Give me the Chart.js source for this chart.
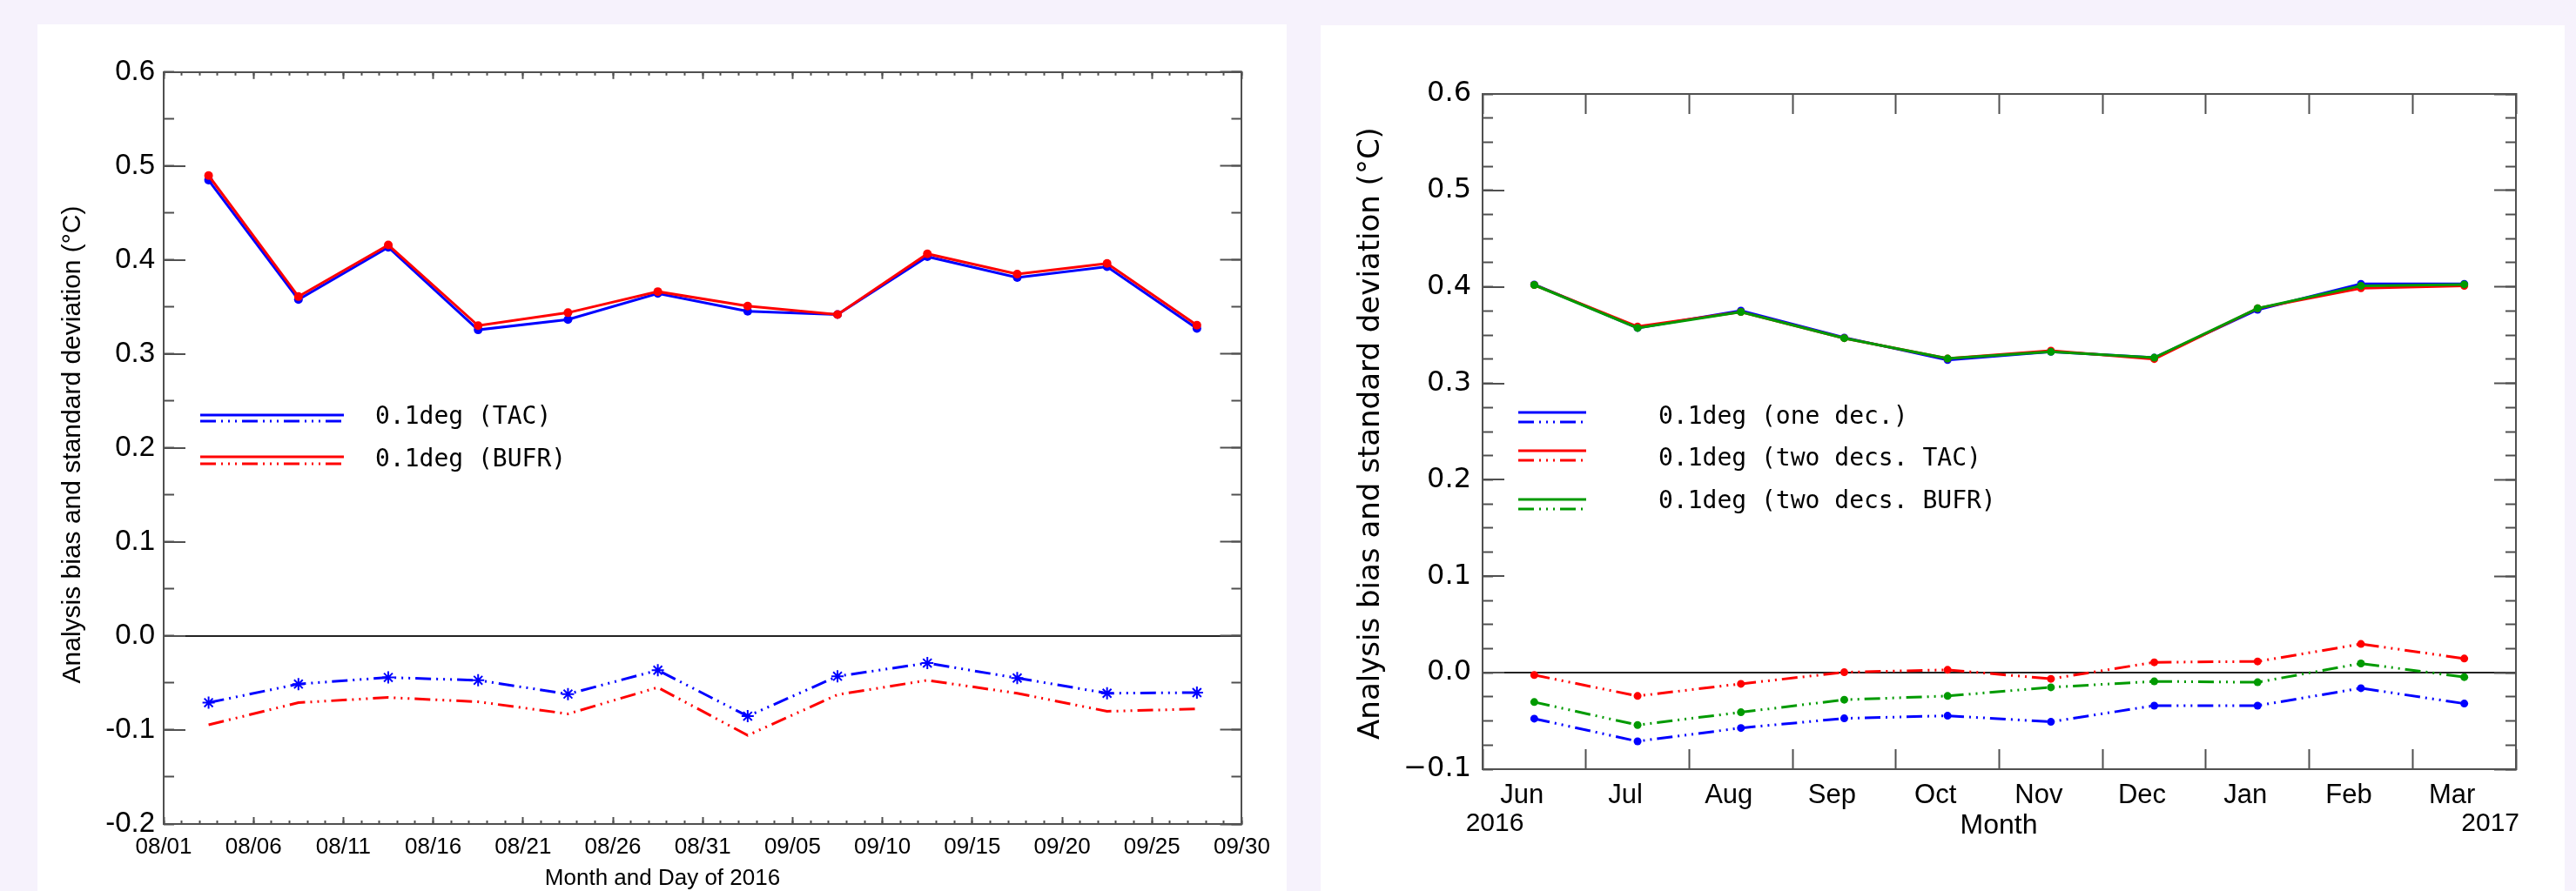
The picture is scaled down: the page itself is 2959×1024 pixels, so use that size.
<!DOCTYPE html>
<html><head><meta charset="utf-8">
<script src="https://cdn.jsdelivr.net/npm/chart.js@4.4.1/dist/chart.umd.min.js"></script>
<style>
html,body{margin:0;padding:0;background:#f6f2fc;width:2959px;height:1024px;overflow:hidden;}
#p1{position:absolute;left:43px;top:28px;width:1435px;height:996px;background:#fff;}
#p2{position:absolute;left:1517px;top:29px;width:1429px;height:995px;background:#fff;}
canvas{display:block;}
</style></head><body>
<div id="p1"><canvas id="c1" width="1435" height="996"></canvas></div>
<div id="p2"><canvas id="c2" width="1429" height="995"></canvas></div>
<script>
// ---------------- LEFT PANEL DATA (5-day periods, Aug–Sep 2016) ----------------
const periodCentreDays = [2.5, 7.5, 12.5, 17.5, 22.5, 27.5, 32.5, 37.5, 42.5, 47.5, 52.5, 57.5]; // days after 08/01
const dateTickLabels = ['08/01','08/06','08/11','08/16','08/21','08/26','08/31','09/05','09/10','09/15','09/20','09/25','09/30'];
const stdTAC   = [0.485, 0.358, 0.4135, 0.3257, 0.3367, 0.3645, 0.3455, 0.342, 0.4036, 0.3814, 0.3929, 0.3272];
const stdBUFR  = [0.4899, 0.3611, 0.416, 0.3302, 0.344, 0.3664, 0.351, 0.342, 0.4066, 0.385, 0.3964, 0.3306];
const biasTAC  = [-0.0709, -0.0511, -0.0441, -0.0471, -0.0618, -0.0364, -0.0853, -0.0428, -0.0288, -0.0447, -0.0609, -0.0602];
const biasBUFR = [-0.0945, -0.0709, -0.0654, -0.0700, -0.0828, -0.0547, -0.1057, -0.0624, -0.0471, -0.0609, -0.0801, -0.0776];
const leftSeriesNames = ['0.1deg (TAC)', '0.1deg (BUFR)'];
const leftYTicks = [-0.2, -0.1, 0, 0.1, 0.2, 0.3, 0.4, 0.5, 0.6];
const leftYTitle = 'Analysis bias and standard deviation (\u00B0C)';
const leftXTitle = 'Month and Day of 2016';

// ---------------- RIGHT PANEL DATA (monthly, Jun 2016 – Mar 2017) ----------------
const months = ['Jun','Jul','Aug','Sep','Oct','Nov','Dec','Jan','Feb','Mar'];
const stdOne      = [0.4025, 0.3574, 0.3754, 0.3475, 0.3242, 0.3327, 0.3266, 0.3763, 0.4032, 0.4032];
const stdTwoTAC   = [0.4020, 0.3589, 0.3740, 0.3468, 0.3257, 0.3339, 0.3252, 0.3778, 0.3986, 0.4011];
const stdTwoBUFR  = [0.4020, 0.3574, 0.3740, 0.3468, 0.3257, 0.3327, 0.3266, 0.3778, 0.4011, 0.4025];
const biasOne     = [-0.0476, -0.0711, -0.0573, -0.0473, -0.0446, -0.0509, -0.0341, -0.0341, -0.0160, -0.0320];
const biasTwoTAC  = [-0.0024, -0.0241, -0.0115, 0.0005, 0.0030, -0.0063, 0.0108, 0.0117, 0.0298, 0.0147];
const biasTwoBUFR = [-0.0304, -0.0542, -0.0410, -0.0280, -0.0241, -0.0151, -0.0090, -0.0099, 0.0096, -0.0045];
const rightSeriesNames = ['0.1deg (one dec.)', '0.1deg (two decs. TAC)', '0.1deg (two decs. BUFR)'];
const rightYTicks = [-0.1, 0, 0.1, 0.2, 0.3, 0.4, 0.5, 0.6];
const yearLabels = ['2016', '2017'];
const rightYTitle = 'Analysis bias and standard deviation (\u00B0C)';
const rightXTitle = 'Month';

// ---------------- STYLE ----------------
const BLUE = '#0000ff', RED = '#ff0000', GREEN = '#009a00';
const AX = '#505050';
const DASH = [18, 6, 2, 6, 2, 6, 2, 6];
const SANS = '"Liberation Sans", Arial, Helvetica, sans-serif';

function stepList(a, b, step) { const out = []; const n = Math.round((b - a) / step); for (let i = 0; i <= n; i++) out.push(+(a + i * step).toFixed(6)); return out; }
function fixSize(pos, size) { return s => { if (pos === 'left' || pos === 'right') s.width = size; else s.height = size; }; }
function setTicks(values) { return s => { s.ticks = values.map(v => ({ value: v })); }; }
function tickAxis(pos, min, max, values, len, border, size) {
  return {
    type: 'linear', position: pos, min: min, max: max, weight: size > 0 ? 10 : 0,
    afterBuildTicks: setTicks(values), afterFit: fixSize(pos, size),
    grid: { display: true, drawOnChartArea: false, drawTicks: true, tickLength: len, tickColor: AX, tickWidth: 2 },
    border: { display: border, color: AX, width: 2 },
    ticks: { display: false }
  };
}
const zeroLine = c => (c.tick && Math.abs(c.tick.value) < 1e-9) ? '#222' : 'rgba(0,0,0,0)';

function drawLegend(ctx, names, colors, rows, x0, x1, textX, font) {
  ctx.save();
  ctx.lineWidth = 3;
  names.forEach((name, i) => {
    const r = rows[i];
    ctx.strokeStyle = colors[i];
    ctx.setLineDash([]);
    ctx.beginPath(); ctx.moveTo(x0, r[0]); ctx.lineTo(x1, r[0]); ctx.stroke();
    ctx.setLineDash(DASH);
    ctx.beginPath(); ctx.moveTo(x0, r[1]); ctx.lineTo(x1, r[1]); ctx.stroke();
    ctx.setLineDash([]);
    ctx.fillStyle = '#000'; ctx.font = font; ctx.textAlign = 'left'; ctx.textBaseline = 'middle';
    ctx.fillText(name, textX, r[2]);
  });
  ctx.restore();
}
function drawText(ctx, text, x, y, font, align, rot) {
  ctx.save(); ctx.fillStyle = '#000'; ctx.font = font; ctx.textAlign = align || 'center'; ctx.textBaseline = 'middle';
  ctx.translate(x, y); if (rot) ctx.rotate(rot); ctx.fillText(text, 0, 0); ctx.restore();
}

// ---------------- LEFT CHART ----------------
const pts = arr => arr.map((v, i) => ({ x: periodCentreDays[i], y: v }));
const leftDecor = {
  id: 'leftDecor',
  afterDraw(chart) {
    const ctx = chart.ctx;
    drawText(ctx, leftYTitle, 41, 483, '30px ' + SANS, 'center', -Math.PI / 2);
    drawText(ctx, leftXTitle, 718, 982, '26px ' + SANS, 'center');
    drawLegend(ctx, leftSeriesNames, [BLUE, RED], [[449, 456, 452], [497, 505, 501]], 187, 352, 388, '28px "DejaVu Sans Mono", monospace');
  }
};
new Chart(document.getElementById('c1'), {
  type: 'line',
  data: {
    datasets: [
      { label: leftSeriesNames[1] + ' std', data: pts(stdBUFR), borderColor: RED, backgroundColor: RED, borderWidth: 3, pointRadius: 5, pointBorderWidth: 0, pointBackgroundColor: RED },
      { label: leftSeriesNames[0] + ' std', data: pts(stdTAC), borderColor: BLUE, backgroundColor: BLUE, borderWidth: 3, pointRadius: 5, pointBorderWidth: 0, pointBackgroundColor: BLUE },
      { label: leftSeriesNames[0] + ' bias', data: pts(biasTAC), borderColor: BLUE, backgroundColor: BLUE, borderWidth: 3, borderDash: DASH, pointStyle: 'star', pointRadius: 7, pointBorderWidth: 2, pointBorderColor: BLUE },
      { label: leftSeriesNames[1] + ' bias', data: pts(biasBUFR), borderColor: RED, backgroundColor: RED, borderWidth: 3, borderDash: DASH, pointRadius: 0 }
    ]
  },
  options: {
    responsive: false, animation: false, events: [],
    layout: { padding: 0 },
    elements: { line: { tension: 0 } },
    plugins: { legend: { display: false }, tooltip: { enabled: false } },
    scales: {
      x: {
        type: 'linear', position: 'bottom', min: 0, max: 60, weight: 10,
        afterBuildTicks: setTicks(stepList(0, 60, 5)), afterFit: fixSize('bottom', 77),
        grid: { display: true, drawOnChartArea: false, drawTicks: true, tickLength: -8, tickColor: AX, tickWidth: 2 },
        border: { display: true, color: AX, width: 2 },
        ticks: { display: true, padding: 19, color: '#000', autoSkip: false, maxRotation: 0, minRotation: 0,
                 font: { family: SANS, size: 26 }, callback: (v, i) => dateTickLabels[i] }
      },
      xMinor: tickAxis('bottom', 0, 60, stepList(0, 60, 1), -4, false, 0),
      xTop: tickAxis('top', 0, 60, stepList(0, 60, 5), -8, true, 45),
      xTopMinor: tickAxis('top', 0, 60, stepList(0, 60, 1), -4, false, 0),
      y: {
        type: 'linear', position: 'left', min: -0.2, max: 0.6, weight: 10,
        afterBuildTicks: setTicks(leftYTicks), afterFit: fixSize('left', 145),
        grid: { display: true, drawOnChartArea: true, drawTicks: true, tickLength: -25, tickColor: AX, tickWidth: 2, color: zeroLine, lineWidth: 2 },
        border: { display: true, color: AX, width: 2 },
        ticks: { display: true, padding: 35, color: '#000', font: { family: SANS, size: 33 }, callback: v => v.toFixed(1) }
      },
      yMinor: tickAxis('left', -0.2, 0.6, stepList(-0.2, 0.6, 0.05), -12, false, 0),
      yRight: tickAxis('right', -0.2, 0.6, leftYTicks, -25, true, 42),
      yRightMinor: tickAxis('right', -0.2, 0.6, stepList(-0.2, 0.6, 0.05), -12, false, 0)
    }
  },
  plugins: [leftDecor]
});

// ---------------- RIGHT CHART ----------------
const rightDecor = {
  id: 'rightDecor',
  afterDraw(chart) {
    const ctx = chart.ctx;
    drawText(ctx, rightYTitle, 58, 469, '34px "DejaVu Sans", sans-serif', 'center', -Math.PI / 2);
    drawText(ctx, rightXTitle, 779, 920, '32px ' + SANS, 'center');
    drawText(ctx, yearLabels[0], 200, 918, '30px ' + SANS, 'center');
    drawText(ctx, yearLabels[1], 1377, 918, '30px ' + SANS, 'right');
    drawLegend(ctx, rightSeriesNames, [BLUE, RED, GREEN], [[445, 456, 451], [489, 500, 499], [545, 556, 548]], 227, 305, 388, '28px "DejaVu Sans Mono", monospace');
  }
};
const rset = (label, data, color, dashed) => ({
  label: label, data: data, borderColor: color, backgroundColor: color, borderWidth: 3,
  borderDash: dashed ? DASH : [], pointRadius: 4.5, pointBorderWidth: 0, pointBackgroundColor: color
});
new Chart(document.getElementById('c2'), {
  type: 'line',
  data: {
    labels: months,
    datasets: [
      rset(rightSeriesNames[2] + ' std', stdTwoBUFR, GREEN, false),
      rset(rightSeriesNames[1] + ' std', stdTwoTAC, RED, false),
      rset(rightSeriesNames[0] + ' std', stdOne, BLUE, false),
      rset(rightSeriesNames[2] + ' bias', biasTwoBUFR, GREEN, true),
      rset(rightSeriesNames[1] + ' bias', biasTwoTAC, RED, true),
      rset(rightSeriesNames[0] + ' bias', biasOne, BLUE, true)
    ]
  },
  options: {
    responsive: false, animation: false, events: [],
    layout: { padding: 0 },
    elements: { line: { tension: 0 } },
    plugins: { legend: { display: false }, tooltip: { enabled: false } },
    scales: {
      x: {
        type: 'category', position: 'bottom', offset: true, weight: 10, afterFit: fixSize('bottom', 140),
        grid: { display: true, offset: true, drawOnChartArea: false, drawTicks: true, tickLength: -23, tickColor: AX, tickWidth: 2 },
        border: { display: true, color: AX, width: 2 },
        ticks: { display: true, padding: 35, labelOffset: -14, color: '#000', autoSkip: false, maxRotation: 0, minRotation: 0,
                 font: { family: SANS, size: 31 } }
      },
      xTop: tickAxis('top', 0, 10, stepList(0, 10, 1), -23, true, 79),
      y: {
        type: 'linear', position: 'left', min: -0.1, max: 0.6, weight: 10,
        afterBuildTicks: setTicks(rightYTicks), afterFit: fixSize('left', 186),
        grid: { display: true, drawOnChartArea: true, drawTicks: true, tickLength: -25, tickColor: AX, tickWidth: 2, color: zeroLine, lineWidth: 2 },
        border: { display: true, color: AX, width: 2 },
        ticks: { display: true, padding: 38, color: '#000', font: { family: '"DejaVu Sans", sans-serif', size: 32 },
                 callback: v => v.toFixed(1).replace('-', '\u2212') }
      },
      yMinor: tickAxis('left', -0.1, 0.6, stepList(-0.1, 0.6, 0.025), -12, false, 0),
      yRight: tickAxis('right', -0.1, 0.6, rightYTicks, -25, true, 56),
      yRightMinor: tickAxis('right', -0.1, 0.6, stepList(-0.1, 0.6, 0.025), -12, false, 0)
    }
  },
  plugins: [rightDecor]
});
</script>
</body></html>
